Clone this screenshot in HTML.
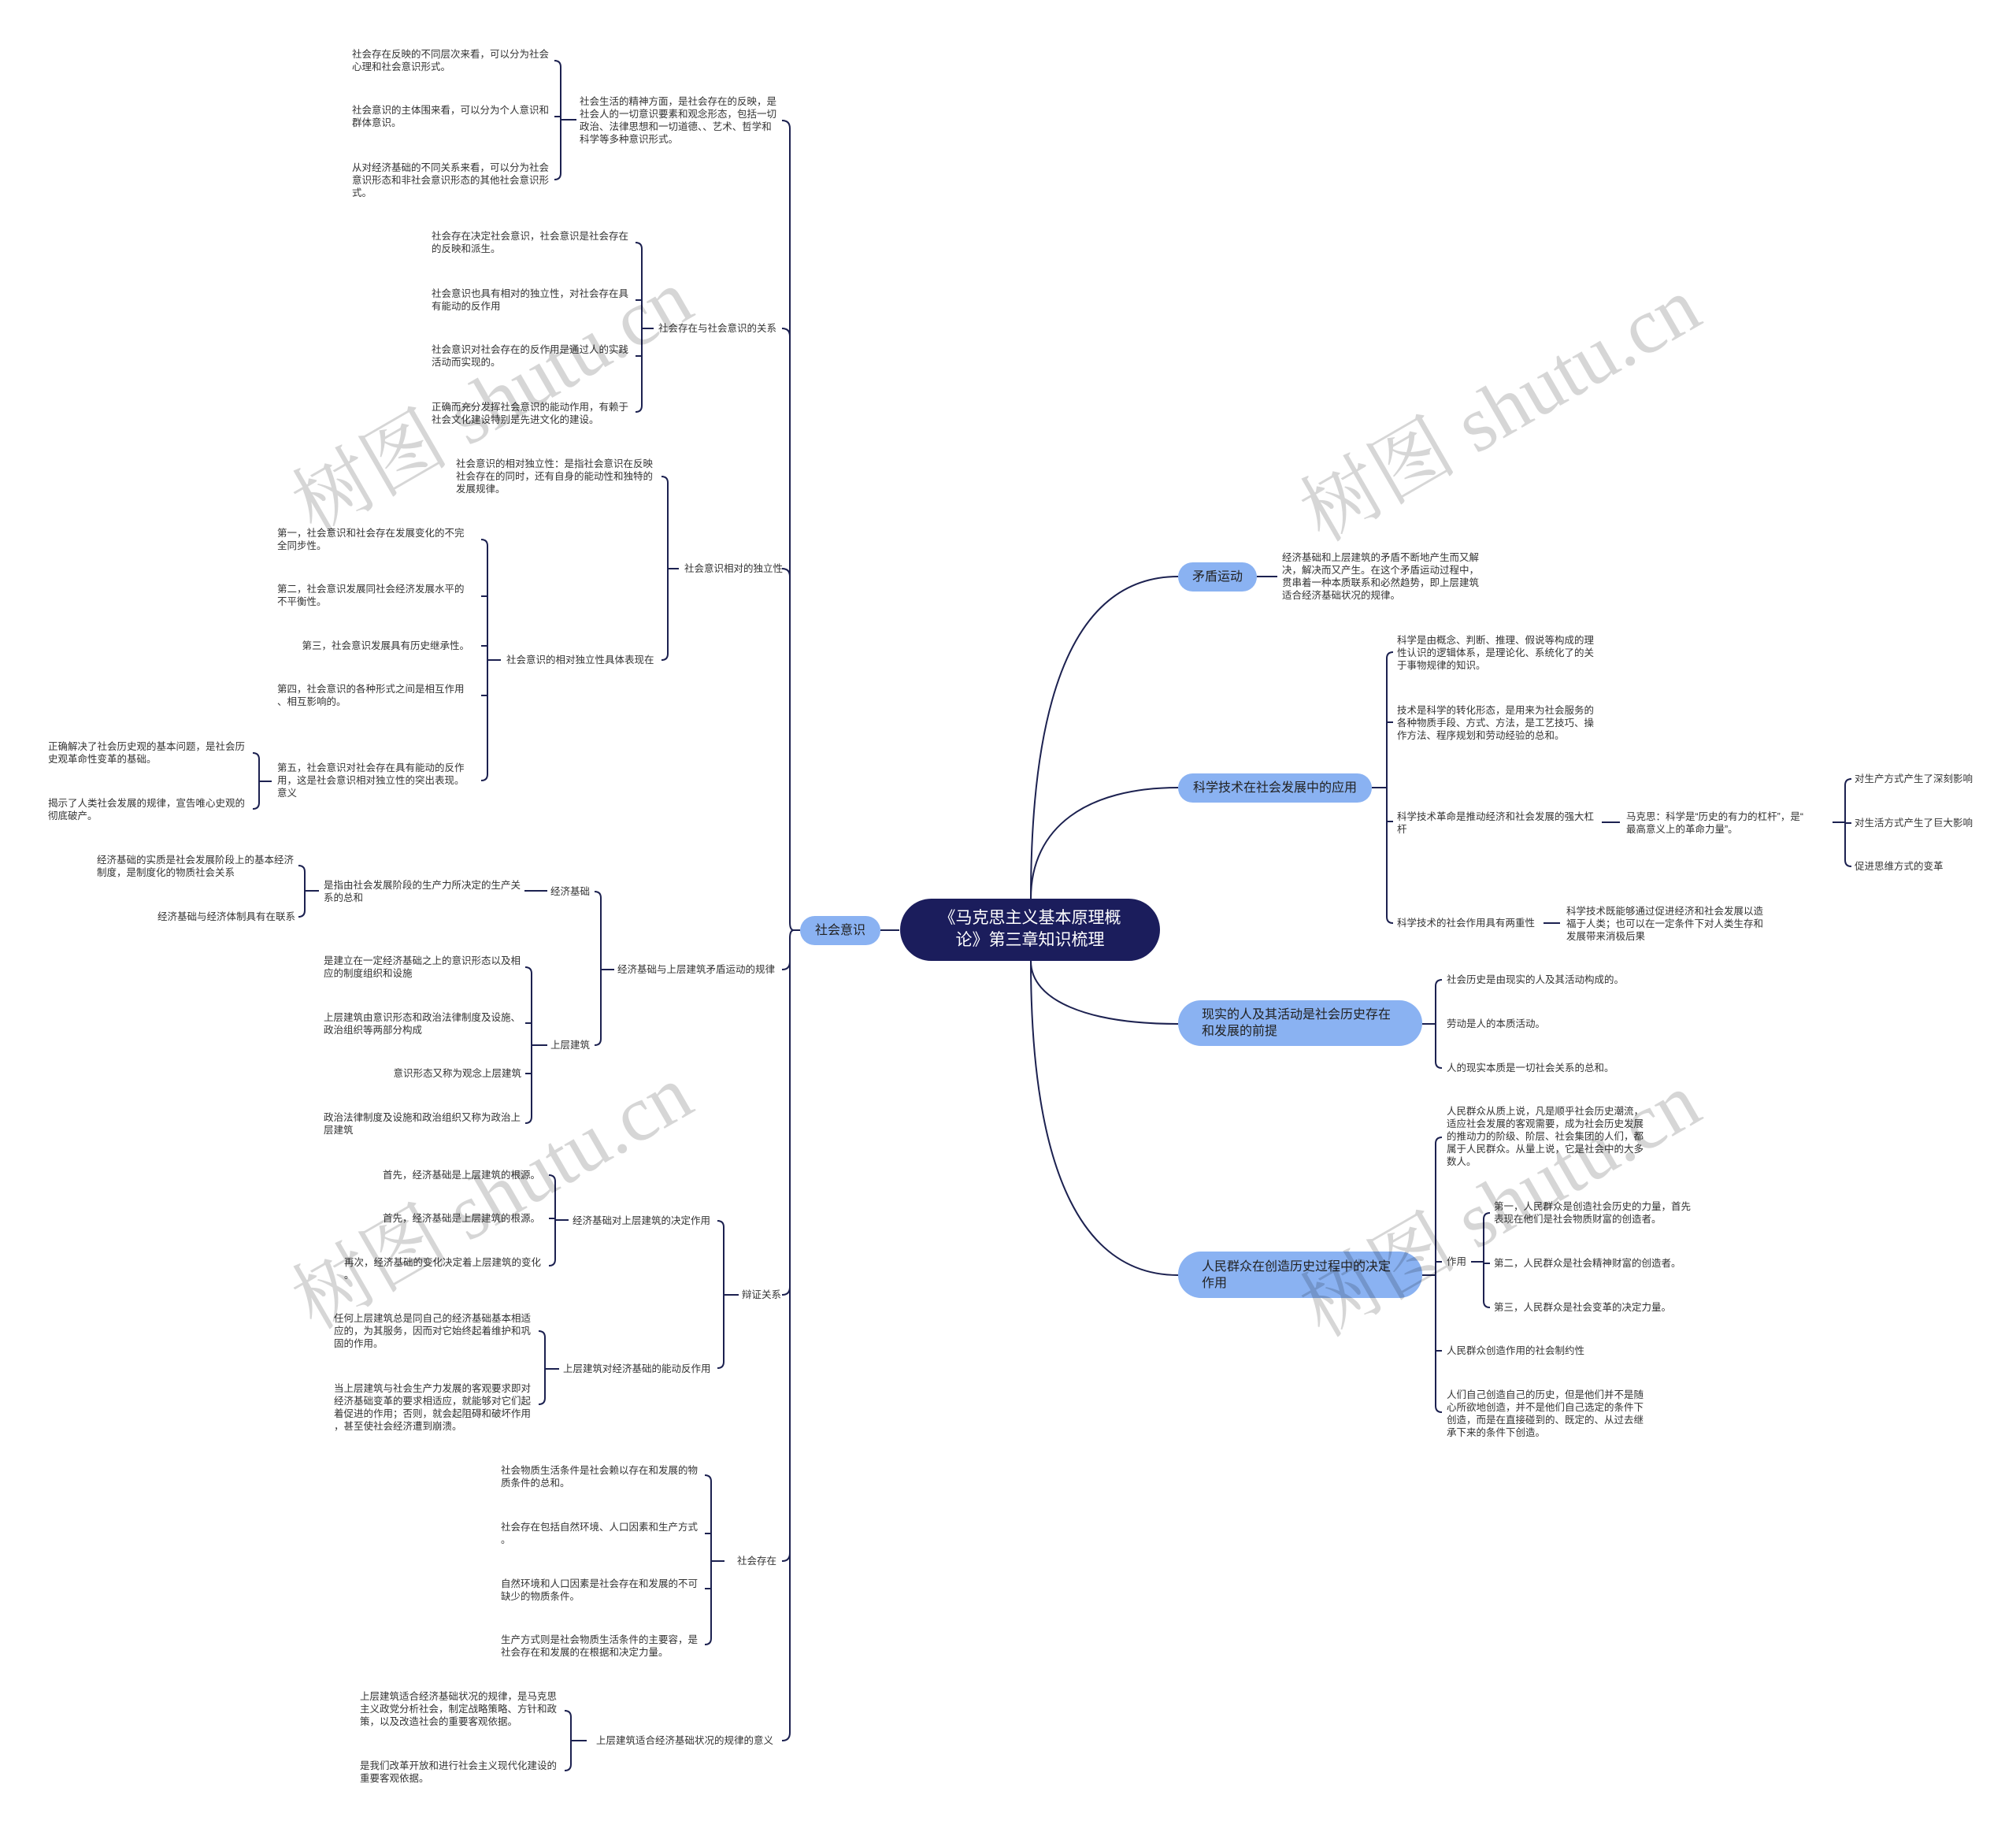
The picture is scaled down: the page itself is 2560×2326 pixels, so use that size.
<!DOCTYPE html>
<html><head><meta charset="utf-8">
<style>
html,body{margin:0;padding:0;background:#fff;}
#c{position:relative;width:2560px;height:2326px;overflow:hidden;font-family:"Liberation Sans","Noto Sans CJK SC",sans-serif;}
.t{position:absolute;font-size:12.5px;line-height:16px;color:#333;white-space:nowrap;}
.r{text-align:right;}
.n{position:absolute;background:#8ab2f2;border-radius:20px;color:#222;font-size:16px;line-height:21px;box-sizing:border-box;}
.wm{position:absolute;font-family:"Liberation Serif","Noto Serif CJK SC",serif;font-size:100px;color:rgba(0,0,0,0.16);white-space:nowrap;transform:rotate(-30deg);transform-origin:center;}
svg{position:absolute;left:0;top:0;}
</style></head><body><div id="c">
<svg width="2560" height="2326" fill="none" stroke="#1c2150" stroke-width="2">
<!-- trunk left -->
<path d="M1142,1181 H1118"/>
<path d="M1016,1181 H1008 Q1003,1181 1003,1171 V163 Q1003,153 993,153"/>
<path d="M1003,427 Q1003,417 993,417"/>
<path d="M1003,732 Q1003,722 993,722"/>
<path d="M1003,1221 Q1003,1231 993,1231"/>
<path d="M1008,1181 Q1003,1181 1003,1191 V2200 Q1003,2210 993,2210"/>
<path d="M1003,1634 Q1003,1644 993,1644"/>
<path d="M1003,1972 Q1003,1982 993,1982"/>
<!-- A -->
<path d="M704,77 Q712,77 712,85 V220 Q712,228 704,228 M712,148 H704 M712,152 H732"/>
<!-- B -->
<path d="M807,308 Q815,308 815,316 V515 Q815,523 807,523 M815,381 H807 M815,452 H807 M815,417 H830"/>
<!-- C -->
<path d="M840,605 Q848,605 848,613 V830 Q848,838 840,838 M848,722 H862"/>
<path d="M611,685 Q619,685 619,693 V983 Q619,991 611,991 M619,757 H611 M619,820 H611 M619,883 H611 M619,838 H636"/>
<path d="M321,956 Q329,956 329,964 V1019 Q329,1027 321,1027 M329,992 H345"/>
<!-- D -->
<path d="M755,1132 Q763,1132 763,1140 V1319 Q763,1327 755,1327 M763,1231 H780"/>
<path d="M666,1131 H695"/>
<path d="M379,1099 Q387,1099 387,1107 V1156 Q387,1164 379,1164 M387,1131 H405"/>
<path d="M667,1228 Q675,1228 675,1236 V1418 Q675,1426 667,1426 M675,1299 H667 M675,1363 H667 M675,1327 H695"/>
<!-- E -->
<path d="M911,1550 Q919,1550 919,1558 V1729 Q919,1737 911,1737 M919,1644 H938"/>
<path d="M697,1492 Q705,1492 705,1500 V1599 Q705,1607 697,1607 M705,1547 H697 M705,1549 H722"/>
<path d="M684,1690 Q692,1690 692,1698 V1775 Q692,1783 684,1783 M692,1738 H710"/>
<!-- F -->
<path d="M895,1873 Q903,1873 903,1881 V2080 Q903,2088 895,2088 M903,1947 H895 M903,2017 H895 M903,1982 H920"/>
<path d="M717,2172 Q725,2172 725,2180 V2240 Q725,2248 717,2248 M725,2210 H745"/>
<!-- right curves -->
<path d="M1309,1141 C1309,850 1380,732 1496,732"/>
<path d="M1309,1141 C1309,1050 1380,1000 1496,1000"/>
<path d="M1309,1220 C1309,1270 1380,1300 1496,1300"/>
<path d="M1309,1220 C1309,1500 1380,1619 1496,1619"/>
<path d="M1596,732 H1622"/>
<path d="M1742,1000 H1761 M1769,828 Q1761,828 1761,836 V1164 Q1761,1172 1769,1172 M1761,917 H1769 M1761,1043 H1769"/>
<path d="M2034,1044 H2057"/>
<path d="M2327,1044 H2343 M2351,989 Q2343,989 2343,997 V1092 Q2343,1100 2351,1100 M2343,1045 H2351"/>
<path d="M1960,1172 H1981"/>
<path d="M1806,1300 H1823 M1831,1244 Q1823,1244 1823,1252 V1348 Q1823,1356 1831,1356"/>
<path d="M1806,1619 H1823 M1831,1444 Q1823,1444 1823,1452 V1785 Q1823,1793 1831,1793 M1823,1602 H1831 M1823,1715 H1831"/>
<path d="M1868,1602 H1884 M1892,1540 Q1884,1540 1884,1548 V1652 Q1884,1660 1892,1660 M1884,1604 H1892"/>
</svg>

<!-- center -->
<div style="position:absolute;left:1143px;top:1141px;width:330px;height:79px;background:#1b1d5c;border-radius:40px;color:#fff;font-size:21px;line-height:28px;text-align:center;padding-top:11px;box-sizing:border-box;">《马克思主义基本原理概<br>论》第三章知识梳理</div>
<div class="n" style="left:1016px;top:1163px;width:102px;height:37px;text-align:center;padding-top:8px;">社会意识</div>
<div class="n" style="left:1496px;top:714px;width:100px;height:37px;text-align:center;padding-top:8px;">矛盾运动</div>
<div class="n" style="left:1496px;top:982px;width:246px;height:37px;text-align:center;padding-top:8px;">科学技术在社会发展中的应用</div>
<div class="n" style="left:1496px;top:1270px;width:310px;height:58px;padding:8px 0 0 30px;border-radius:29px;"> 现实的人及其活动是社会历史存在<br>和发展的前提</div>
<div class="n" style="left:1496px;top:1589px;width:310px;height:59px;padding:9px 0 0 30px;border-radius:29px;">人民群众在创造历史过程中的决定<br>作用</div>

<!-- A -->
<div class="t" style="left:736px;top:121px;">社会生活的精神方面，是社会存在的反映，是<br>社会人的一切意识要素和观念形态，包括一切<br>政治、法律思想和一切道德、、艺术、哲学和<br>科学等多种意识形式。</div>
<div class="t" style="left:447px;top:61px;">社会存在反映的不同层次来看，可以分为社会<br>心理和社会意识形式。</div>
<div class="t" style="left:447px;top:132px;">社会意识的主体围来看，可以分为个人意识和<br>群体意识。</div>
<div class="t" style="left:447px;top:205px;">从对经济基础的不同关系来看，可以分为社会<br>意识形态和非社会意识形态的其他社会意识形<br>式。</div>
<!-- B -->
<div class="t" style="left:836px;top:409px;">社会存在与社会意识的关系</div>
<div class="t" style="left:548px;top:292px;">社会存在决定社会意识，社会意识是社会存在<br>的反映和派生。</div>
<div class="t" style="left:548px;top:365px;">社会意识也具有相对的独立性，对社会存在具<br>有能动的反作用</div>
<div class="t" style="left:548px;top:436px;">社会意识对社会存在的反作用是通过人的实践<br>活动而实现的。</div>
<div class="t" style="left:548px;top:509px;">正确而充分发挥社会意识的能动作用，有赖于<br>社会文化建设特别是先进文化的建设。</div>
<!-- C -->
<div class="t" style="left:869px;top:714px;">社会意识相对的独立性</div>
<div class="t" style="left:579px;top:581px;">社会意识的相对独立性：是指社会意识在反映<br>社会存在的同时，还有自身的能动性和独特的<br>发展规律。</div>
<div class="t" style="left:643px;top:830px;">社会意识的相对独立性具体表现在</div>
<div class="t" style="left:352px;top:669px;">第一，社会意识和社会存在发展变化的不完<br>全同步性。</div>
<div class="t" style="left:352px;top:740px;">第二，社会意识发展同社会经济发展水平的<br>不平衡性。</div>
<div class="t r" style="right:1964px;top:812px;">第三，社会意识发展具有历史继承性。</div>
<div class="t" style="left:352px;top:867px;">第四，社会意识的各种形式之间是相互作用<br>、相互影响的。</div>
<div class="t" style="left:352px;top:967px;">第五，社会意识对社会存在具有能动的反作<br>用，这是社会意识相对独立性的突出表现。<br>意义</div>
<div class="t" style="left:61px;top:940px;">正确解决了社会历史观的基本问题，是社会历<br>史观革命性变革的基础。</div>
<div class="t" style="left:61px;top:1012px;">揭示了人类社会发展的规律，宣告唯心史观的<br>彻底破产。</div>
<!-- D -->
<div class="t" style="left:784px;top:1223px;">经济基础与上层建筑矛盾运动的规律</div>
<div class="t" style="left:699px;top:1124px;">经济基础</div>
<div class="t" style="left:699px;top:1319px;">上层建筑</div>
<div class="t" style="left:411px;top:1116px;">是指由社会发展阶段的生产力所决定的生产关<br>系的总和</div>
<div class="t" style="left:123px;top:1084px;">经济基础的实质是社会发展阶段上的基本经济<br>制度，是制度化的物质社会关系</div>
<div class="t r" style="right:2185px;top:1156px;">经济基础与经济体制具有在联系</div>
<div class="t" style="left:411px;top:1212px;">是建立在一定经济基础之上的意识形态以及相<br>应的制度组织和设施</div>
<div class="t" style="left:411px;top:1284px;">上层建筑由意识形态和政治法律制度及设施、<br>政治组织等两部分构成</div>
<div class="t r" style="right:1898px;top:1355px;">意识形态又称为观念上层建筑</div>
<div class="t" style="left:411px;top:1411px;">政治法律制度及设施和政治组织又称为政治上<br>层建筑</div>
<!-- E -->
<div class="t" style="left:942px;top:1636px;">辩证关系</div>
<div class="t" style="left:727px;top:1542px;">经济基础对上层建筑的决定作用</div>
<div class="t" style="left:715px;top:1730px;">上层建筑对经济基础的能动反作用</div>
<div class="t r" style="right:1874px;top:1484px;">首先，经济基础是上层建筑的根源。</div>
<div class="t r" style="right:1874px;top:1539px;">首先，经济基础是上层建筑的根源。</div>
<div class="t" style="left:437px;top:1595px;">再次，经济基础的变化决定着上层建筑的变化<br>。</div>
<div class="t" style="left:424px;top:1666px;">任何上层建筑总是同自己的经济基础基本相适<br>应的，为其服务，因而对它始终起着维护和巩<br>固的作用。</div>
<div class="t" style="left:424px;top:1755px;">当上层建筑与社会生产力发展的客观要求即对<br>经济基础变革的要求相适应，就能够对它们起<br>着促进的作用；否则，就会起阻碍和破坏作用<br>，甚至使社会经济遭到崩溃。</div>
<!-- F -->
<div class="t" style="left:936px;top:1974px;">社会存在</div>
<div class="t" style="left:636px;top:1859px;">社会物质生活条件是社会赖以存在和发展的物<br>质条件的总和。</div>
<div class="t" style="left:636px;top:1931px;">社会存在包括自然环境、人口因素和生产方式<br>。</div>
<div class="t" style="left:636px;top:2003px;">自然环境和人口因素是社会存在和发展的不可<br>缺少的物质条件。</div>
<div class="t" style="left:636px;top:2074px;">生产方式则是社会物质生活条件的主要容，是<br>社会存在和发展的在根据和决定力量。</div>
<div class="t" style="left:757px;top:2202px;">上层建筑适合经济基础状况的规律的意义</div>
<div class="t" style="left:457px;top:2146px;">上层建筑适合经济基础状况的规律，是马克思<br>主义政党分析社会，制定战略策略、方针和政<br>策，以及改造社会的重要客观依据。</div>
<div class="t" style="left:457px;top:2234px;">是我们改革开放和进行社会主义现代化建设的<br>重要客观依据。</div>

<!-- right -->
<div class="t" style="left:1628px;top:700px;">经济基础和上层建筑的矛盾不断地产生而又解<br>决，解决而又产生。在这个矛盾运动过程中，<br>贯串着一种本质联系和必然趋势，即上层建筑<br>适合经济基础状况的规律。</div>
<div class="t" style="left:1774px;top:805px;">科学是由概念、判断、推理、假说等构成的理<br>性认识的逻辑体系，是理论化、系统化了的关<br>于事物规律的知识。</div>
<div class="t" style="left:1774px;top:894px;">技术是科学的转化形态，是用来为社会服务的<br>各种物质手段、方式、方法，是工艺技巧、操<br>作方法、程序规划和劳动经验的总和。</div>
<div class="t" style="left:1774px;top:1029px;">科学技术革命是推动经济和社会发展的强大杠<br>杆</div>
<div class="t" style="left:2065px;top:1029px;">马克思：科学是“历史的有力的杠杆”，是“<br>最高意义上的革命力量”。</div>
<div class="t" style="left:2355px;top:981px;">对生产方式产生了深刻影响</div>
<div class="t" style="left:2355px;top:1037px;">对生活方式产生了巨大影响</div>
<div class="t" style="left:2355px;top:1092px;">促进思维方式的变革</div>
<div class="t" style="left:1774px;top:1164px;">科学技术的社会作用具有两重性</div>
<div class="t" style="left:1989px;top:1149px;">科学技术既能够通过促进经济和社会发展以造<br>福于人类；也可以在一定条件下对人类生存和<br>发展带来消极后果</div>
<div class="t" style="left:1837px;top:1236px;">社会历史是由现实的人及其活动构成的。</div>
<div class="t" style="left:1837px;top:1292px;">劳动是人的本质活动。</div>
<div class="t" style="left:1837px;top:1348px;">人的现实本质是一切社会关系的总和。</div>
<div class="t" style="left:1837px;top:1403px;">人民群众从质上说，凡是顺乎社会历史潮流，<br>适应社会发展的客观需要，成为社会历史发展<br>的推动力的阶级、阶层、社会集团的人们，都<br>属于人民群众。从量上说，它是社会中的大多<br>数人。</div>
<div class="t" style="left:1837px;top:1594px;">作用</div>
<div class="t" style="left:1897px;top:1524px;">第一，人民群众是创造社会历史的力量，首先<br>表现在他们是社会物质财富的创造者。</div>
<div class="t" style="left:1897px;top:1596px;">第二，人民群众是社会精神财富的创造者。</div>
<div class="t" style="left:1897px;top:1652px;">第三，人民群众是社会变革的决定力量。</div>
<div class="t" style="left:1837px;top:1707px;">人民群众创造作用的社会制约性</div>
<div class="t" style="left:1837px;top:1763px;">人们自己创造自己的历史，但是他们并不是随<br>心所欲地创造，并不是他们自己选定的条件下<br>创造，而是在直接碰到的、既定的、从过去继<br>承下来的条件下创造。</div>

<!-- watermarks -->
<div class="wm" style="left:340px;top:430px;">树图 shutu.cn</div>
<div class="wm" style="left:1620px;top:440px;">树图 shutu.cn</div>
<div class="wm" style="left:340px;top:1440px;">树图 shutu.cn</div>
<div class="wm" style="left:1620px;top:1450px;">树图 shutu.cn</div>
</div></body></html>
